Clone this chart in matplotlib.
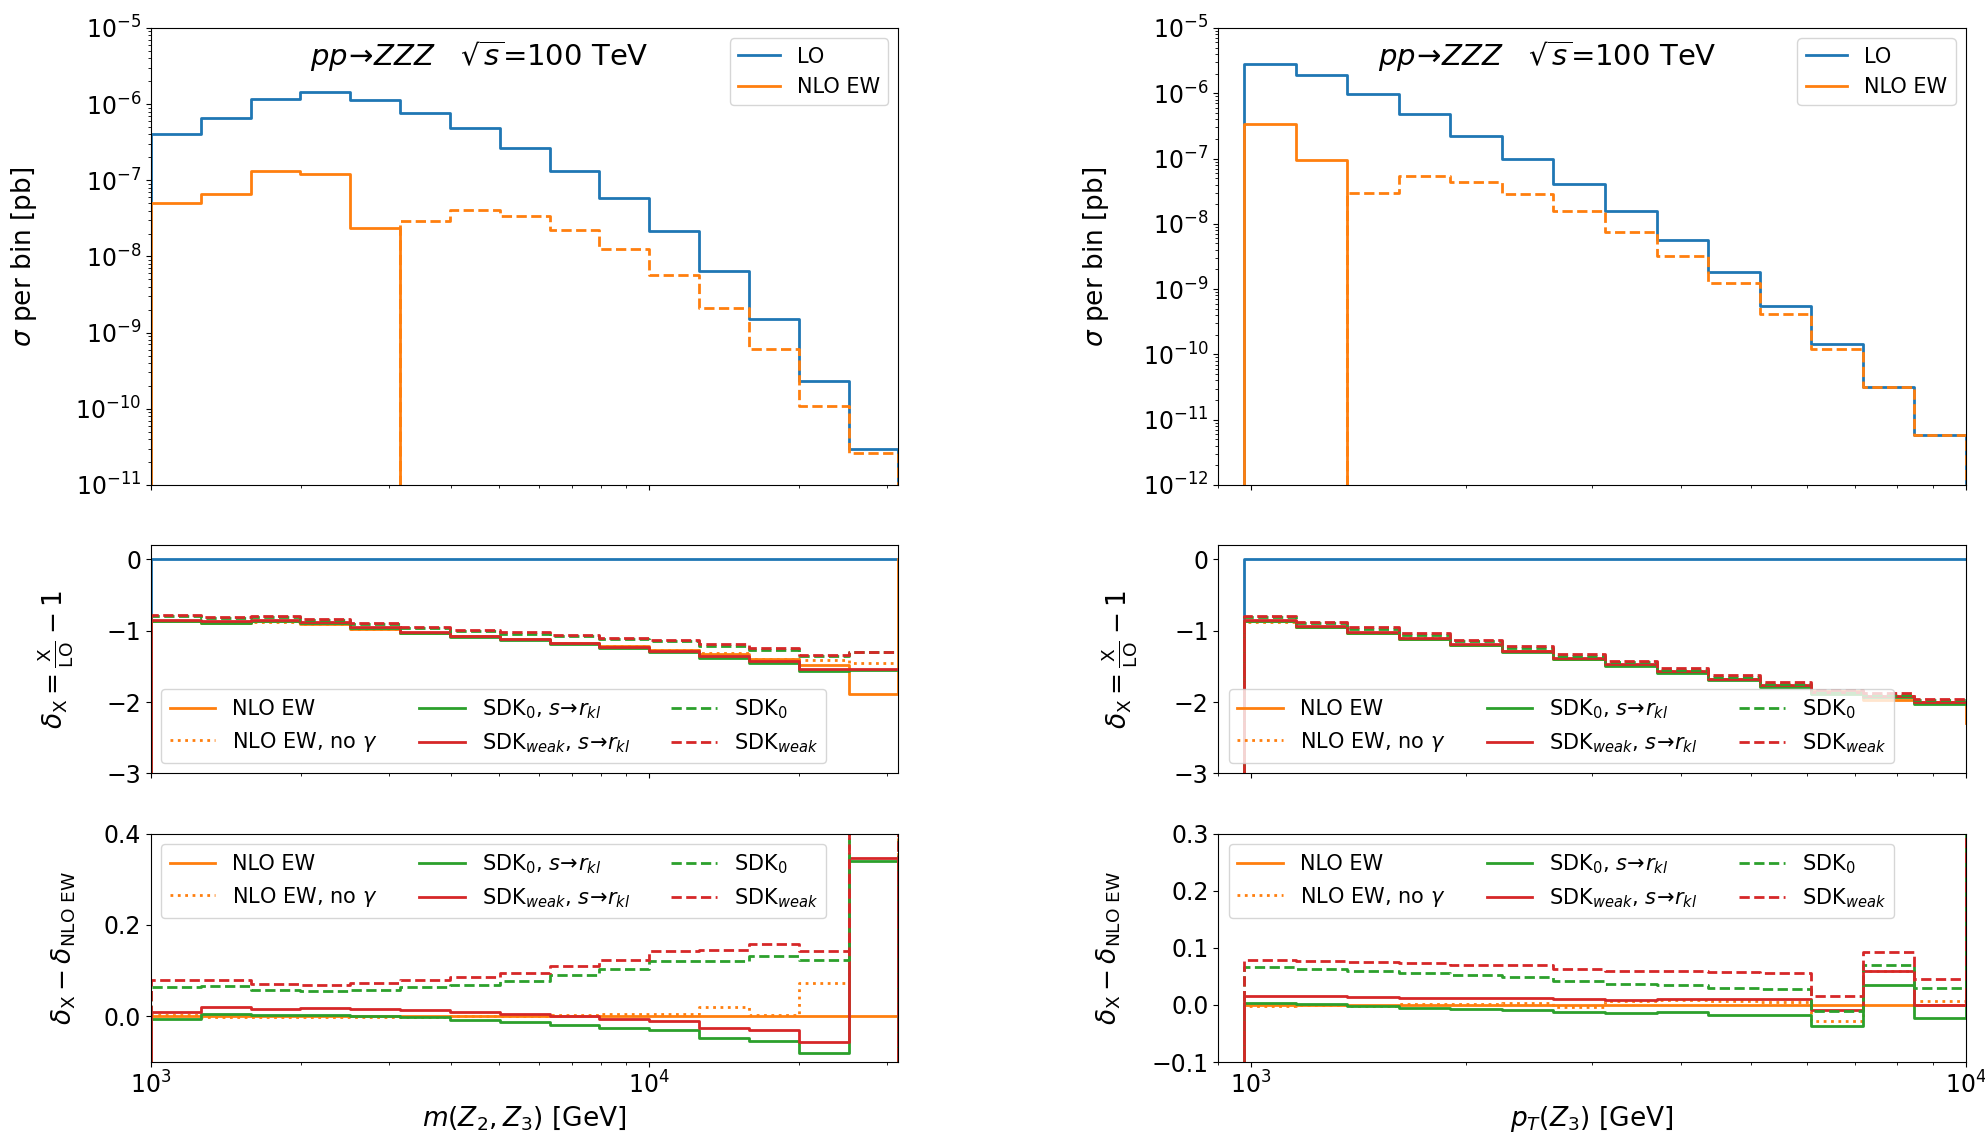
import numpy as np
import matplotlib.pyplot as plt
from matplotlib.ticker import NullFormatter

# bin edges [GeV]
edges_m = [1000, 1259, 1585, 1995, 2512, 3162, 3981, 5012, 6310, 7943,
           10000, 12589, 15849, 19953, 25119, 31623]
edges_pt = [977, 1154, 1362, 1609, 1900, 2243, 2648, 3126, 3691, 4358,
            5145, 6075, 7172, 8469, 10000]

# sigma per bin [pb], m(Z2,Z3)
lo_m = [4.0e-7, 6.5e-7, 1.16e-6, 1.44e-6, 1.15e-6, 7.7e-7, 4.8e-7, 2.65e-7,
        1.31e-7, 5.8e-8, 2.16e-8, 6.5e-9, 1.49e-9, 2.34e-10, 2.94e-11]
nlo_m = [5.1e-8, 6.65e-8, 1.32e-7, 1.22e-7, 2.37e-8, -2.93e-8, -4.05e-8, -3.38e-8,
         -2.26e-8, -1.26e-8, -5.75e-9, -2.12e-9, -6.04e-10, -1.1e-10, -2.66e-11]

# sigma per bin [pb], pT(Z3)
lo_pt = [2.83e-6, 1.90e-6, 9.7e-7, 4.77e-7, 2.22e-7, 9.7e-8, 4.02e-8, 1.56e-8,
         5.6e-9, 1.83e-9, 5.43e-10, 1.42e-10, 3.2e-11, 5.9e-12]
nlo_pt = [3.35e-7, 9.4e-8, -2.92e-8, -5.4e-8, -4.41e-8, -2.85e-8, -1.55e-8, -7.5e-9,
          -3.22e-9, -1.24e-9, -4.19e-10, -1.2e-10, -3.15e-11, -5.9e-12]

# delta_NLO EW = NLO/LO - 1 ; last entry is the overflow bin past the plotted range
dnlo_m = [-0.86, -0.89, -0.87, -0.90, -0.97, -1.03, -1.08, -1.12, -1.17, -1.22,
          -1.27, -1.33, -1.40, -1.48, -1.884, 0.0]
dnlo_pt = [-0.87, -0.95, -1.03, -1.11, -1.20, -1.29, -1.39, -1.48, -1.58, -1.68,
           -1.77, -1.85, -1.97, -2.00, -2.29]

# delta_X - delta_NLO EW, m(Z2,Z3)
nogam_m = [0.002, -0.0015, -0.0015, -0.0015, -0.0015, -0.0015, 0.0, 0.001,
           0.003, 0.004, 0.004, 0.020, 0.003, 0.072, 0.437]
sdk0r_m = [-0.005, 0.0044, 0.002, 0.002, 0.001, -0.0015, -0.007, -0.013,
           -0.020, -0.026, -0.031, -0.047, -0.055, -0.081, 0.339]
sdkwr_m = [0.010, 0.0197, 0.017, 0.0175, 0.016, 0.014, 0.010, 0.0044,
           0.0, -0.005, -0.010, -0.025, -0.031, -0.057, 0.347]
sdk0_m = [0.065, 0.066, 0.058, 0.055, 0.058, 0.0635, 0.069, 0.0766,
          0.090, 0.103, 0.120, 0.121, 0.133, 0.123, 0.58]
sdkw_m = [0.0796, 0.080, 0.0715, 0.069, 0.073, 0.080, 0.085, 0.095,
          0.109, 0.123, 0.142, 0.146, 0.158, 0.143, 0.59]

# delta_X - delta_NLO EW, pT(Z3)
nogam_pt = [-0.0023, -0.0006, -0.0018, 0.001, 0.0015, 0.0035, -0.0035, 0.006,
            0.0088, 0.007, 0.0047, -0.0286, 0.060, 0.006]
sdk0r_pt = [0.003, 0.0018, -0.0018, -0.005, -0.007, -0.0093, -0.012, -0.0146,
            -0.0128, -0.017, -0.018, -0.037, 0.0344, -0.0233]
sdkwr_pt = [0.0152, 0.015, 0.0134, 0.012, 0.0117, 0.0117, 0.0099, 0.008,
            0.011, 0.0099, 0.0099, -0.0093, 0.059, 0.0006]
sdk0_pt = [0.0666, 0.0636, 0.060, 0.056, 0.052, 0.0485, 0.0414, 0.0368,
           0.0356, 0.0304, 0.0286, -0.011, 0.0695, 0.0298]
sdkw_pt = [0.0794, 0.0776, 0.075, 0.073, 0.0706, 0.069, 0.0636, 0.060,
           0.060, 0.057, 0.0566, 0.0158, 0.093, 0.045]

FS = 17      # tick labels
LFS = 19     # axis labels
LW = 2.0


def hstep(ax, edges, vals, first, last, **kw):
    # histogram-like step, entering from `first` and leaving to `last`
    x = np.r_[edges[0], edges]
    y = np.r_[first, vals, last]
    return ax.step(x, y, where='post', lw=LW, **kw)


def column(axs, edges, lo, nlo, dnlo, nogam, sdk0r, sdkwr, sdk0, sdkw,
           xlim, ylim_top, ylim_bot, yticks_bot, xlabel, labx):
    ax1, ax2, ax3 = axs
    lo = np.array(lo)
    nlo = np.array(nlo)
    dnlo = np.array(dnlo)
    n = len(lo)

    # --- cross sections
    ax1.set_yscale('log')
    hstep(ax1, edges, lo, 0, 0, color='C0', label='LO')
    hstep(ax1, edges, nlo, 0, 0, color='C1', label='NLO EW')
    hstep(ax1, edges, -nlo, 0, 0, color='C1', ls='--')
    ax1.set_ylim(ylim_top)
    ax1.set_ylabel(r'$\sigma$ per bin [pb]', fontsize=LFS)
    ax1.text(0.44, 0.917, r'$pp\!\to\! ZZZ$   $\sqrt{s}$=100 TeV', transform=ax1.transAxes,
             fontsize=21, va='baseline', ha='center')
    ax1.legend(loc='upper right', fontsize=15)

    # --- relative corrections
    styles = [(nogam, 'C1', ':', r'NLO EW, no $\gamma$'),
              (sdk0r, 'C2', '-', r'SDK$_0$, $s\!\to\! r_{kl}$'),
              (sdkwr, 'C3', '-', r'SDK$_{weak}$, $s\!\to\! r_{kl}$'),
              (sdk0, 'C2', '--', r'SDK$_0$'),
              (sdkw, 'C3', '--', r'SDK$_{weak}$')]

    hstep(ax2, edges, np.zeros(n), -10, 0, color='C0')
    hstep(ax2, edges, dnlo[:n], -10, dnlo[n], color='C1', label='NLO EW')
    hstep(ax3, edges, np.zeros(n), -10, 0, color='C1', label='NLO EW')
    for d, c, ls, lab in styles:
        d = np.array(d)
        mid = dnlo[:n] + d
        hstep(ax2, edges, mid, -10, mid[-1], color=c, ls=ls, label=lab)
        hstep(ax3, edges, d, -10, mid[-1] - dnlo[n], color=c, ls=ls, label=lab)

    ax2.set_ylim(-3, 0.2)
    ax2.set_yticks([0, -1, -2, -3])
    ax2.set_ylabel(r'$\delta_{\rm X} = \frac{\rm X}{\rm LO} - 1$', fontsize=LFS)
    ax2.legend(loc='lower left', ncol=3, fontsize=15, handlelength=2.2)

    ax3.set_ylim(ylim_bot)
    ax3.set_yticks(yticks_bot)
    ax3.set_ylabel(r'$\delta_{\rm X} - \delta_{\rm NLO\ EW}$', fontsize=LFS)
    ax3.legend(loc='upper left', ncol=3, fontsize=15, handlelength=2.2)

    ax3.set_xscale('log')
    ax3.set_xlim(xlim)
    ax3.xaxis.set_minor_formatter(NullFormatter())
    ax3.set_xlabel(xlabel, fontsize=LFS)
    for ax, lx in zip(axs, labx):
        ax.tick_params(labelsize=FS)
        ax.yaxis.set_label_coords(lx, 0.5)
    for ax in axs[:2]:
        ax.tick_params(labelbottom=False)


fig = plt.figure(figsize=(19.85, 11.47), dpi=100)
gs = fig.add_gridspec(3, 2, height_ratios=[2, 1, 1], left=0.076, right=0.9904,
                      top=0.9756, bottom=0.0741, hspace=0.197, wspace=0.428)

axL1 = fig.add_subplot(gs[0, 0])
axL2 = fig.add_subplot(gs[1, 0], sharex=axL1)
axL3 = fig.add_subplot(gs[2, 0], sharex=axL1)
axR1 = fig.add_subplot(gs[0, 1])
axR2 = fig.add_subplot(gs[1, 1], sharex=axR1)
axR3 = fig.add_subplot(gs[2, 1], sharex=axR1)

column([axL1, axL2, axL3], edges_m, lo_m, nlo_m, dnlo_m,
       nogam_m, sdk0r_m, sdkwr_m, sdk0_m, sdkw_m,
       (1000, 31623), (1e-11, 1e-5), (-0.1, 0.4), [0.0, 0.2, 0.4],
       r'$m(Z_2,Z_3)$ [GeV]', [-0.149, -0.100, -0.097])
column([axR1, axR2, axR3], edges_pt, lo_pt, nlo_pt, dnlo_pt,
       nogam_pt, sdk0r_pt, sdkwr_pt, sdk0_pt, sdkw_pt,
       (900, 10000), (1e-12, 1e-5), (-0.1, 0.3), [-0.1, 0.0, 0.1, 0.2, 0.3],
       r'$p_T(Z_3)$ [GeV]', [-0.144, -0.105, -0.127])

plt.savefig('out.png', dpi=100)
